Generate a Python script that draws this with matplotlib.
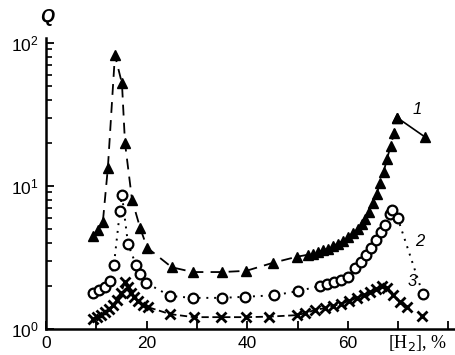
# Q vs hydrogen concentration, three curves on a log scale

import numpy as np
import matplotlib
matplotlib.use("Agg")
import matplotlib.pyplot as plt

# curve 1 (triangles, dashed)
x1 = np.array([9.3, 10.3, 11.3, 12.3, 13.7, 15.1, 15.7, 17.1, 18.7, 20.1, 25.0, 29.2, 35.0, 39.8, 45.1, 49.9,
               52, 53, 54, 55, 56, 57, 58, 59, 60, 61, 62, 62.8, 63.5, 64.2, 65, 65.7, 66.4, 67.1, 67.8, 68.5, 69.2, 69.8])
q1 = np.array([4.5, 4.9, 5.6, 13.4, 82, 52, 20, 8.0, 5.1, 3.7, 2.7, 2.5, 2.5, 2.55, 2.9, 3.2,
               3.3, 3.35, 3.45, 3.55, 3.65, 3.8, 3.95, 4.15, 4.4, 4.7, 5.0, 5.4, 5.9, 6.6, 7.6, 8.8, 10.4, 12.5, 15.5, 19, 23.5, 30])
x1_end = np.array([69.8, 75.3])
q1_end = np.array([30, 22])

# curve 2 (open circles, dotted)
x2 = np.array([9.3, 10.5, 11.7, 12.7, 13.5, 14.7, 15.1, 16.3, 17.9, 18.7, 19.9, 24.7, 29.2, 35.0, 39.6, 45.3, 50.1,
               54.5, 55.9, 57.3, 58.6, 60.0, 61.4, 62.6, 63.6, 64.6, 65.6, 66.6, 67.4, 68.4, 68.8, 69.9, 74.9])
q2 = np.array([1.79, 1.87, 1.97, 2.17, 2.8, 6.7, 8.65, 3.93, 2.8, 2.42, 2.1, 1.70, 1.65, 1.65, 1.68, 1.72, 1.84,
               2.0, 2.07, 2.13, 2.2, 2.31, 2.67, 2.94, 3.3, 3.68, 4.19, 4.77, 5.34, 6.37, 6.8, 5.97, 1.76])

# curve 3 (crosses, short dashes)
x3 = np.array([9.3, 10.1, 10.9, 11.7, 12.5, 13.3, 14.1, 14.9, 15.7, 16.3, 16.9, 17.5, 18.3, 19.3, 20.3, 24.7, 29.4, 34.8,
               39.8, 44.4, 49.9, 51.5, 53.5, 55.5, 57.1, 58.6, 60.2, 61.8, 63.2, 64.4, 65.6, 66.8, 67.8, 69.0, 70.4, 71.8])
q3 = np.array([1.17, 1.21, 1.25, 1.31, 1.38, 1.47, 1.6, 1.79, 2.13, 1.97, 1.79, 1.67, 1.57, 1.47, 1.42, 1.27, 1.21, 1.21,
               1.21, 1.22, 1.25, 1.29, 1.36, 1.40, 1.45, 1.50, 1.57, 1.65, 1.73, 1.81, 1.9, 2.0, 1.94, 1.73, 1.55, 1.42])
x3_lone = [74.8]
q3_lone = [1.23]

xtick_vals = [0, 10, 20, 30, 40, 50, 60, 70, 80]
xtick_text = ["0", "", "20", "", "40", "", "60", "", ""]

plt.rcParams["font.family"] = ["Liberation Sans", "DejaVu Sans"]

fig = plt.figure(figsize=(4.55, 3.55), dpi=100)
ax = fig.add_axes([46 / 455, 26 / 355, 409 / 455, 291 / 355])

ax.plot(x1, q1, color="k", ls=(0, (6, 4)), lw=1.3, marker="^", ms=7.5, mec="k", mfc="k")
ax.plot(x1_end, q1_end, color="k", ls="-", lw=1.2, marker="^", ms=7.5)
ax.plot(x2, q2, color="k", ls=(0, (1, 3)), lw=1.4, marker="o", ms=7, mfc="white", mec="k", mew=1.6)
ax.plot(x3, q3, color="k", ls=(0, (4, 2)), lw=1.3, marker="x", ms=7, mew=2)
ax.plot(x3_lone, q3_lone, color="k", ls="none", marker="x", ms=7, mew=2)

ax.set_yscale("log")
ax.set_xlim(0, 81.3)
ax.set_ylim(1, 108)

for s in ["top", "right"]:
    ax.spines[s].set_visible(False)
ax.spines["left"].set_linewidth(1.8)
ax.spines["bottom"].set_linewidth(1.8)

ax.set_xticks(xtick_vals)
ax.set_xticklabels(xtick_text)
ax.tick_params(axis="both", which="major", direction="in", length=6, width=1.3, labelsize=12.5, pad=5)
ax.tick_params(axis="y", which="minor", direction="in", length=4, width=1.2)

# curve numbers
ax.text(73.8, 34, "1", fontsize=12, style="italic", ha="center", va="center")
ax.text(74.2, 4.1, "2", fontsize=12, style="italic", ha="center", va="center")
ax.text(72.8, 2.15, "3", fontsize=12, style="italic", ha="center", va="center")

fig.text(47 / 455, 1 - 17 / 355, "Q", fontsize=13, style="italic", weight="bold", ha="center", va="center")
fig.text(418 / 455, 1 - 343 / 355, "[H$_2$], %", fontsize=13, family="Liberation Serif", ha="center", va="center")

fig.savefig("out.png", dpi=100)
